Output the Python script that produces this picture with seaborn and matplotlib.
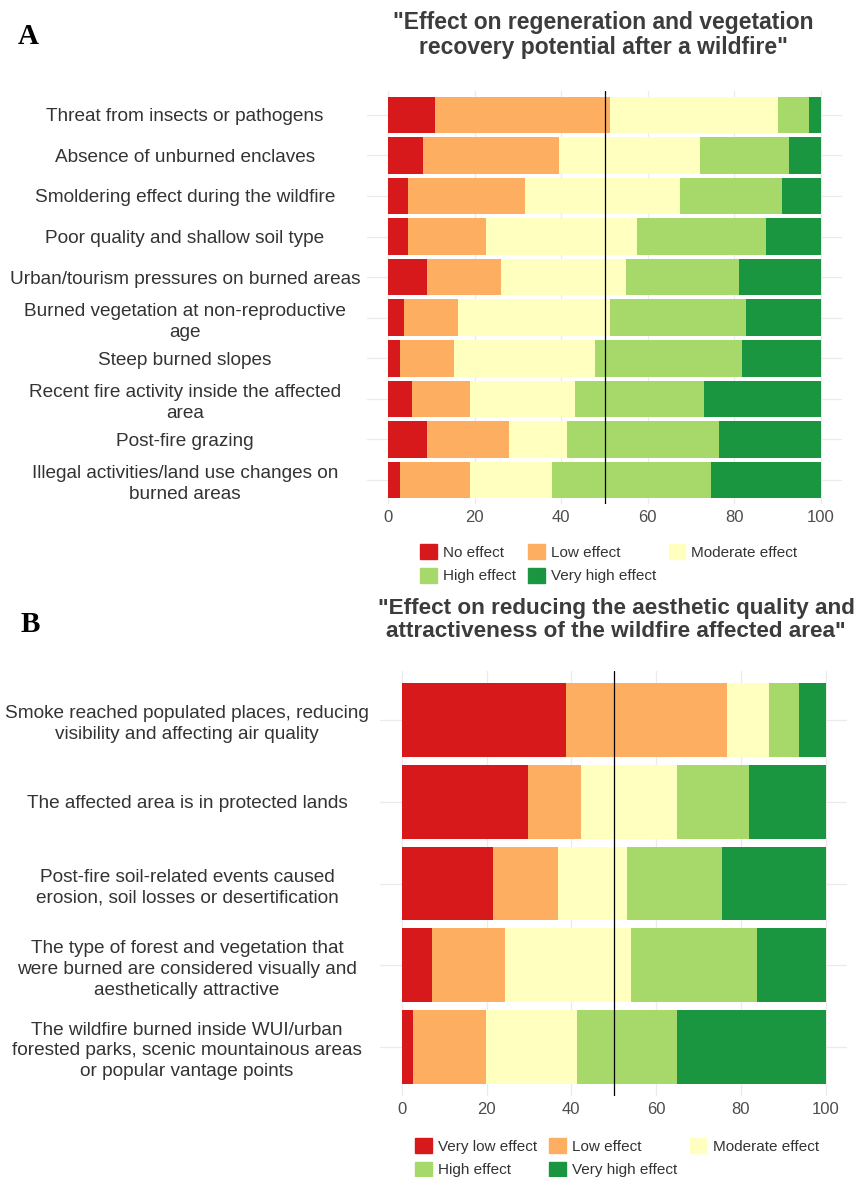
import pandas as pd
import seaborn as sns
import matplotlib.pyplot as plt
from matplotlib.patches import Patch

# Panel A data (percent of respondents)
cats_a = ["Threat from insects or pathogens",
          "Absence of unburned enclaves",
          "Smoldering effect during the wildfire",
          "Poor quality and shallow soil type",
          "Urban/tourism pressures on burned areas",
          "Burned vegetation at non-reproductive\nage",
          "Steep burned slopes",
          "Recent fire activity inside the affected\narea",
          "Post-fire grazing",
          "Illegal activities/land use changes on\nburned areas"]
levels_a = ["No effect", "Low effect", "Moderate effect", "High effect", "Very high effect"]
no_a = [10.8, 8.1, 4.6, 4.6, 9.0, 3.6, 2.7, 5.4, 9.0, 2.7]
low_a = [40.5, 31.4, 26.9, 17.9, 17.1, 12.6, 12.6, 13.5, 18.9, 16.2]
mod_a = [38.7, 32.5, 36.0, 35.1, 28.8, 35.1, 32.4, 24.3, 13.5, 18.9]
high_a = [7.3, 20.7, 23.5, 29.7, 26.1, 31.5, 34.2, 29.7, 35.1, 36.9]
vhigh_a = [2.7, 7.3, 9.0, 12.7, 19.0, 17.2, 18.1, 27.1, 23.5, 25.3]

# Panel B data
cats_b = ["Smoke reached populated places, reducing\nvisibility and affecting air quality",
          "The affected area is in protected lands",
          "Post-fire soil-related events caused\nerosion, soil losses or desertification",
          "The type of forest and vegetation that\nwere burned are considered visually and\naesthetically attractive",
          "The wildfire burned inside WUI/urban\nforested parks, scenic mountainous areas\nor popular vantage points"]
levels_b = ["Very low effect", "Low effect", "Moderate effect", "High effect", "Very high effect"]
vlow_b = [38.7, 29.7, 21.6, 7.2, 2.7]
low_b = [37.9, 12.6, 15.3, 17.1, 17.2]
mod_b = [9.9, 22.5, 16.2, 29.7, 21.5]
high_b = [7.1, 17.1, 22.5, 29.7, 23.4]
vhigh_b = [6.4, 18.1, 24.4, 16.3, 35.2]

colors = ["#D7191C", "#FDAE61", "#FFFFBF", "#A6D96A", "#1A9641"]

sns.set_style("white")
plt.rcParams["font.family"] = ["Liberation Sans", "DejaVu Sans"]

fig = plt.figure(figsize=(8.56, 11.77), dpi=100)
ax1 = fig.add_axes([0.4284, 0.5715, 0.5557, 0.3516])
ax2 = fig.add_axes([0.4445, 0.0688, 0.5450, 0.3611])


def stacked(ax, cats, vals, levels, pad):
    df = pd.DataFrame(dict(zip(levels, vals)), index=cats)
    cum = df.cumsum(axis=1)
    for lvl, col in reversed(list(zip(levels, colors))):
        sns.barplot(x=cum[lvl].values, y=cats, color=col, saturation=1,
                    width=0.9, orient="h", linewidth=0, ax=ax)
    ax.axvline(50, color="black", lw=0.9, zorder=5)
    ax.set_xlim(-5, 105)
    ax.set_ylim(len(cats) - 0.4, -0.6)
    ax.set_xticks([0, 20, 40, 60, 80, 100])
    ax.set(xlabel="", ylabel="")
    ax.grid(True, color="#EBEBEB", lw=0.9)
    ax.set_axisbelow(True)
    sns.despine(ax=ax, left=True, bottom=True)
    ax.tick_params(axis="both", length=0)
    ax.tick_params(axis="x", labelsize=12, labelcolor="#4D4D4D", pad=4)
    ax.tick_params(axis="y", labelsize=13.7, labelcolor="#333333", pad=pad)
    for t in ax.get_yticklabels():
        t.set_horizontalalignment("center")
        t.set_multialignment("center")
        t.set_linespacing(1.3)
    handles = [Patch(color=c, label=l) for l, c in zip(levels, colors)]
    order = [0, 3, 1, 4, 2]
    return [handles[i] for i in order]


h1 = stacked(ax1, cats_a, [no_a, low_a, mod_a, high_a, vhigh_a], levels_a, 130.8)
h2 = stacked(ax2, cats_b, [vlow_b, low_b, mod_b, high_b, vhigh_b], levels_b, 139.3)

leg_kw = dict(ncol=3, frameon=False, fontsize=11, handlelength=1.1, handleheight=1.1,
              handletextpad=0.4, columnspacing=0.8, labelspacing=0.55, borderpad=0,
              borderaxespad=0, loc="upper left", labelcolor="#333333")
fig.legend(handles=h1, bbox_to_anchor=(420 / 856, 1 - 544 / 1177), **leg_kw)
fig.legend(handles=h2, bbox_to_anchor=(415 / 856, 1 - 1138 / 1177), **leg_kw)

title_kw = dict(ha="center", va="center", fontsize=16.5, fontweight="bold",
                color="#3C3C3C", linespacing=1.12)
fig.text(603 / 856, 1 - 35 / 1177,
         "\"Effect on regeneration and vegetation\nrecovery potential after a wildfire\"", **title_kw)
fig.text(616 / 856, 1 - 620 / 1177,
         "\"Effect on reducing the aesthetic quality and\nattractiveness of the wildfire affected area\"",
         fontsize=16.2, **{k: v for k, v in title_kw.items() if k != "fontsize"})

letter_kw = dict(ha="center", va="center", fontsize=21, fontweight="bold",
                 family="Liberation Serif", color="black")
fig.text(28 / 856, 1 - 36 / 1177, "A", **letter_kw)
fig.text(30 / 856, 1 - 625 / 1177, "B", **letter_kw)

fig.savefig("out.png", dpi=100)
